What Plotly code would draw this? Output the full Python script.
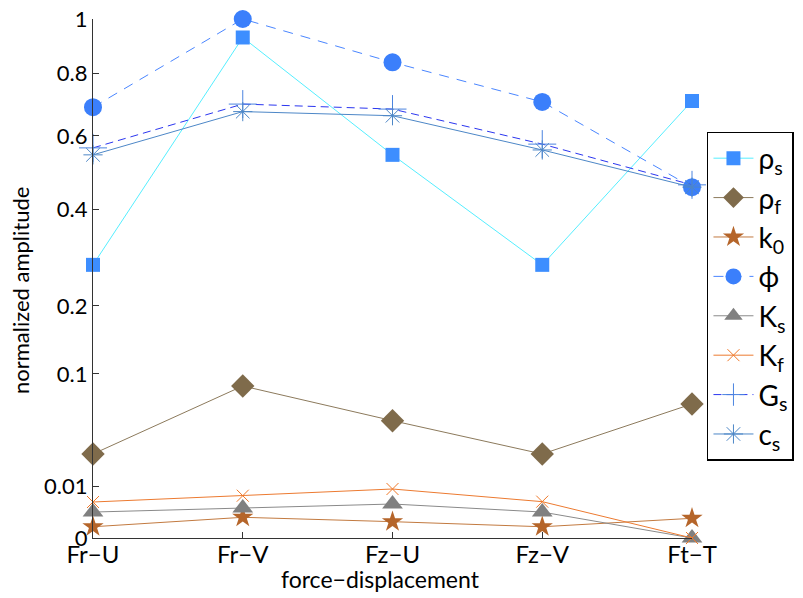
import numpy as np
import plotly.graph_objects as go

categories = ["Fr\u2212U", "Fr\u2212V", "Fz\u2212U", "Fz\u2212V", "Ft\u2212T"]

rho_s = [0.277, 0.930, 0.545, 0.277, 0.709]
rho_f = [0.0262, 0.0858, 0.0511, 0.0262, 0.0667]
k0 = [0.00047, 0.00159, 0.00099, 0.00047, 0.00144]
phi = [0.689, 1.0, 0.840, 0.706, 0.457]
K_s = [0.0025, 0.00334, 0.00429, 0.0025, 0.0]
K_f = [0.00481, 0.00664, 0.00891, 0.0049, 0.0]
G_s = [0.565, 0.699, 0.683, 0.576, 0.463]
c_s = [0.545, 0.675, 0.662, 0.559, 0.457]

y_tick_values = [0, 0.01, 0.1, 0.2, 0.4, 0.6, 0.8, 1]
y_tick_labels = ["0", "0.01", "0.1", "0.2", "0.4", "0.6", "0.8", "1"]

FONT = "Lato"

def tr(v):
    return np.sqrt(np.array(v, dtype=float))

xs = list(range(len(categories)))

series = [
    ("\u03c1<sub>s</sub>", rho_s, dict(color="#55eeff", width=1, dash="solid"),
     dict(symbol="square", size=14, color="#3d8eff")),
    ("\u03c1<sub>f</sub>", rho_f, dict(color="#8c7a5c", width=1, dash="solid"),
     dict(symbol="diamond", size=18, color="#7f6b4b")),
    ("k<sub>0</sub>", k0, dict(color="#c27a40", width=1, dash="solid"),
     dict(symbol="star", size=16, color="#b5652a")),
    ("\u03d5", phi, dict(color="#4a86ff", width=1, dash="10px,8px"),
     dict(symbol="circle", size=18, color="#3b7ffb")),
    ("K<sub>s</sub>", K_s, dict(color="#8a8a8a", width=1, dash="solid"),
     dict(symbol="triangle-up", size=18, color="#808080")),
    ("K<sub>f</sub>", K_f, dict(color="#ec7a30", width=1, dash="solid"),
     dict(symbol="x-thin-open", size=12, color="#f07828", line=dict(width=1, color="#f07828"))),
    ("G<sub>s</sub>", G_s, dict(color="#2b36f0", width=1, dash="8px,5px"),
     dict(symbol="cross-thin-open", size=20, color="#4b84e0", line=dict(width=1, color="#4b84e0"))),
    ("c<sub>s</sub>", c_s, dict(color="#4d87c7", width=1, dash="solid"),
     dict(symbol="asterisk-open", size=16, color="#4d87c7", line=dict(width=1, color="#4d87c7"))),
]

fig = go.Figure()
for name, vals, line, marker in series:
    fig.add_trace(go.Scatter(
        x=xs, y=tr(vals), name=name, mode="lines+markers",
        line=line, marker=marker, cliponaxis=False,
    ))

fig.update_layout(
    width=803, height=598,
    margin=dict(l=93, r=111, t=19, b=60, autoexpand=False),
    plot_bgcolor="white", paper_bgcolor="white",
    font=dict(family=FONT, size=21, color="black"),
    showlegend=True,
    legend=dict(
        xref="container", yref="container",
        x=0.8804, y=0.7793, xanchor="left", yanchor="top",
        bgcolor="white", bordercolor="black", borderwidth=1.5,
        font=dict(family=FONT, size=28, color="black"),
        tracegroupgap=0, itemwidth=40, maxheight=560,
    ),
    xaxis=dict(
        range=[0, 4], tickmode="array", tickvals=xs, ticktext=categories,
        showline=True, linecolor="#333333", linewidth=1.3, mirror=False,
        ticks="inside", ticklen=6, tickcolor="#333333", showgrid=False, zeroline=False,
        tickfont=dict(family=FONT, size=24), automargin=False, ticklabelstandoff=-5,
    ),
    yaxis=dict(
        range=[0, 1], tickmode="array", tickvals=tr(y_tick_values), ticktext=y_tick_labels,
        showline=True, linecolor="#333333", linewidth=1.3, mirror=False,
        ticks="inside", ticklen=6, tickcolor="#333333", showgrid=False, zeroline=False,
        tickfont=dict(family=FONT, size=22), automargin=False,
    ),
    annotations=[
        dict(text="force\u2212displacement", xref="paper", yref="paper",
             x=0.48, y=-0.079, xanchor="center", yanchor="middle", showarrow=False,
             font=dict(family=FONT, size=23, color="black")),
        dict(text="normalized amplitude", xref="paper", yref="paper",
             x=-0.12, y=0.476, xanchor="center", yanchor="middle", showarrow=False,
             textangle=-90, font=dict(family=FONT, size=22, color="black")),
    ],
)

fig.write_html(
    "out.html",
    config={"displayModeBar": False},
    post_script="document.body.style.margin='0';document.body.style.overflow='hidden';",
)
